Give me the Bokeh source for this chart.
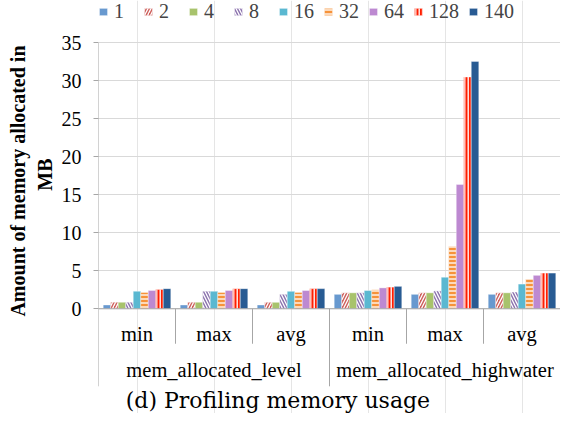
from bokeh.plotting import figure
from bokeh.models import (FactorRange, Range1d, FixedTicker, Legend, LegendItem,
                          ColumnDataSource, Title)
from bokeh.transform import dodge
from bokeh.core.properties import value
from bokeh.embed import file_html
from bokeh.resources import INLINE

# ---- data ----
groups = ["mem_allocated_level"] * 3 + ["mem_allocated_highwater"] * 3
stats = ["min", "max", "avg", "min", "max", "avg"]
series_names = ["1", "2", "4", "8", "16", "32", "64", "128", "140"]
s1 = [0.5, 0.5, 0.5, 1.9, 1.9, 1.9]
s2 = [0.85, 0.85, 0.85, 2.1, 2.1, 2.1]
s4 = [0.85, 0.85, 0.85, 2.1, 2.1, 2.1]
s8 = [0.85, 2.3, 1.9, 2.1, 2.35, 2.2]
s16 = [2.3, 2.3, 2.3, 2.4, 4.15, 3.25]
s32 = [2.15, 2.15, 2.15, 2.5, 8.2, 3.9]
s64 = [2.4, 2.4, 2.4, 2.75, 16.35, 4.4]
s128 = [2.55, 2.65, 2.65, 2.85, 30.5, 4.7]
s140 = [2.65, 2.65, 2.65, 2.95, 32.55, 4.7]
y_ticks = [0, 5, 10, 15, 20, 25, 30, 35]
caption = "(d) Profiling memory usage"
y_label_lines = ["Amount of memory allocated in", "MB"]

series_values = [s1, s2, s4, s8, s16, s32, s64, s128, s140]
colors = ["#6899CF", "#CD5F5B", "#A8C36C", "#8B71AD", "#5AB8D1",
          "#F6923A", "#BD89D1", "#FF1E00", "#285B93"]
hatches = [None, "/", None, "\\", None, "-", None, "|", None]
hatch_scales = [6, 6, 6, 6, 6, 4, 6, 3.5, 6]

factors = list(zip(groups, stats))
src = ColumnDataSource(dict(cat=factors, **{"s" + n: v for n, v in zip(series_names, series_values)}))

SERIF = "Liberation Serif"
x_range = FactorRange(*factors, range_padding=0, group_padding=0, factor_padding=0)
p = figure(width=560, height=413, x_range=x_range, y_range=Range1d(-13.78, 40.57),
           output_backend="svg", toolbar_location=None, x_axis_location=None,
           min_border_left=98, min_border_right=0, min_border_top=0, min_border_bottom=0)
p.outline_line_color = None

# y axis
p.yaxis.ticker = FixedTicker(ticks=y_ticks)
p.ygrid.ticker = FixedTicker(ticks=y_ticks)
p.ygrid.grid_line_color = "#D9D9D9"
p.ygrid.grid_line_width = 1
p.yaxis.axis_line_color = None
p.yaxis.major_tick_line_color = "#A6A6A6"
p.yaxis.major_tick_out = 5
p.yaxis.major_tick_in = 0
p.yaxis.minor_tick_line_color = None
p.yaxis.major_label_text_font = SERIF
p.yaxis.major_label_text_font_size = "20px"
p.yaxis.major_label_text_color = "black"
p.yaxis.major_label_standoff = 12

# y axis title: two lines, each placed so that they are centred on the value range
p.add_layout(Title(text=y_label_lines[1], align="right", offset=158, standoff=6,
                   text_font=SERIF, text_font_style="bold", text_font_size="20px",
                   text_color="black"), "left")
p.add_layout(Title(text=y_label_lines[0], align="right", offset=45, standoff=0,
                   text_font=SERIF, text_font_style="bold", text_font_size="20px",
                   text_color="black"), "left")

# bars
n = len(series_names)
w = 0.0975
items = []
for i, (name, c, h, hs) in enumerate(zip(series_names, colors, hatches, hatch_scales)):
    off = (i - (n - 1) / 2) * w
    kw = {}
    if h:
        kw = dict(hatch_pattern=h, hatch_color="white", hatch_scale=hs, hatch_weight=1.3)
    r = p.vbar(x=dodge("cat", off, range=p.x_range), top="s" + name, bottom=0, width=w,
               source=src, fill_color=c, line_color="white", line_alpha=0.6,
               line_width=0.6, **kw)
    items.append(LegendItem(label=name, renderers=[r]))

# category axis lines
ncat = len(factors)
p.segment(x0=[0, ncat], y0=[0, 0], x1=[ncat, ncat], y1=[0, 0], line_color="#A6A6A6", line_width=1)
p.segment(x0=[0], y0=[-10.2], x1=[0], y1=[y_ticks[-1]], line_color="#A6A6A6", line_width=1)
inner = [i for i in range(1, ncat) if groups[i] == groups[i - 1]]
outer = [i for i in range(1, ncat + 1) if i == ncat or groups[i] != groups[i - 1]]
p.segment(x0=inner, y0=[0] * len(inner), x1=inner, y1=[-4.6] * len(inner),
          line_color="#A6A6A6", line_width=1)
p.segment(x0=outer, y0=[0] * len(outer), x1=outer, y1=[-10.2] * len(outer),
          line_color="#A6A6A6", line_width=1)

# category labels
p.text(x=factors, y=[-3.3] * ncat, text=stats, text_align="center", text_baseline="middle",
       text_font=value(SERIF), text_font_size="20.5px", text_color="black")
ug = list(dict.fromkeys(groups))
p.text(x=ug, y=[-8.05] * len(ug), text=ug, text_align="center", text_baseline="middle",
       text_font=value(SERIF), text_font_size="20.5px", text_color="black")
p.text(x=[2.33], y=[-12.07], text=[caption], text_align="center", text_baseline="middle",
       text_font=value("DejaVu Serif"), text_font_size="22px", text_color="black")

legend = Legend(items=items, orientation="horizontal", location="top_left",
                glyph_width=10, glyph_height=9, label_standoff=6, spacing=9,
                padding=0, margin=0, background_fill_alpha=0, border_line_color=None,
                label_text_font=SERIF, label_text_font_size="20px")
p.add_layout(legend)

open("out.html", "w").write(file_html(p, INLINE))
